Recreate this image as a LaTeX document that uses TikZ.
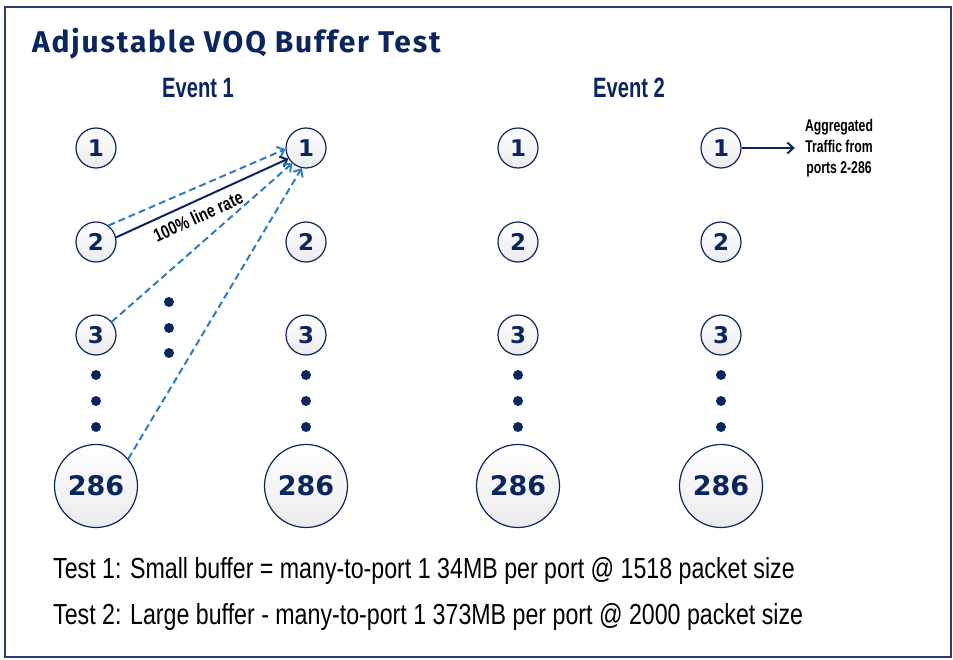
\documentclass[tikz,border=0pt]{standalone}
\usepackage{fontspec}
\setmainfont{Liberation Sans}
\newfontfamily\numfont{DejaVu Sans}
\newfontfamily\headfont[LetterSpace=6]{Fira Sans}
\newfontfamily\condfont[FakeStretch=0.72]{Liberation Sans}
\newfontfamily\ratefont[FakeStretch=0.78]{Liberation Sans}
\newfontfamily\notefont[FakeStretch=0.8]{Liberation Sans}
\usetikzlibrary{arrows.meta}
\definecolor{navy}{HTML}{0B2560}
\definecolor{dashblue}{HTML}{2A7DC6}
\definecolor{framecol}{HTML}{2B3A78}
\tikzset{
  port/.style={circle,draw=navy,line width=1.2pt,top color=white,bottom color=gray!16,
    minimum size=40pt,inner sep=0pt,text=navy,
    font=\numfont\bfseries\fontsize{23}{23}\selectfont},
  bigport/.style={port,minimum size=83pt,font=\numfont\bfseries\fontsize{27}{27}\selectfont},
  ratearrow/.style={navy,line width=2pt,-{Straight Barb[length=6pt,width=11pt]}},
  dasharrow/.style={dashblue,line width=2pt,dash pattern=on 7pt off 4pt,
    -{Straight Barb[length=6pt,width=11pt]}},
  eventlabel/.style={text=navy,font=\condfont\bfseries\fontsize{28}{28}\selectfont}
}
\begin{document}
\begin{tikzpicture}[x=1pt,y=1pt]
\useasboundingbox (0,0) rectangle (953,-660);
\draw[framecol,line width=2pt] (5,-7) rectangle (951,-657);
\node[anchor=base west,inner sep=0pt,text=navy,font=\headfont\bfseries\fontsize{30}{30}\selectfont]
  (title) at (32,-53) {Adjustable VOQ Buffer Test};
\node[eventlabel,anchor=base] (ev1) at (198,-98) {Event 1};
\node[eventlabel,anchor=base] (ev2) at (629,-98) {Event 2};
% columns of ports
\foreach \c/\x in {a/96,b/306,c/518,d/721}{
  \node[port] (\c1) at (\x,-148) {1};
  \node[port] (\c2) at (\x,-242) {2};
  \node[port] (\c3) at (\x,-335) {3};
  \foreach \y in {375,401,427} \fill[navy] (\x,-\y) circle (5);
  \node[bigport] (\c286) at (\x,-486) {286};
}
\foreach \y in {302,328,353} \fill[navy] (169,-\y) circle (5);
% event 1 traffic
\draw[dasharrow] (a2.53) -- (b1.183);
\draw[ratearrow] (a2.13) -- (b1.211)
  node[pos=0.44,below=4pt,sloped,text=black,font=\ratefont\bfseries\fontsize{18.5}{18.5}\selectfont]{100\% line rate};
\draw[dasharrow] (a3.40) -- (b1.228);
\draw[dasharrow] (a286.40) -- (b1.258);
% event 2 output
\node[align=center,inner sep=1pt,font=\condfont\bfseries\fontsize{17}{21}\selectfont]
  (agg) at (839,-148) {Aggregated\\Traffic from\\ports 2-286};
\draw[ratearrow,shorten >=9pt] (d1.east) -- (agg.west);
% notes
\node[anchor=base west,inner sep=0pt,font=\notefont\fontsize{29}{29}\selectfont]
  (test1) at (53,-578) {Test 1: Small buffer = many-to-port 1 34MB per port @ 1518 packet size};
\node[anchor=base west,inner sep=0pt,font=\notefont\fontsize{29}{29}\selectfont]
  (test2) at (53,-624) {Test 2: Large buffer - many-to-port 1 373MB per port @ 2000 packet size};
\end{tikzpicture}
\end{document}
